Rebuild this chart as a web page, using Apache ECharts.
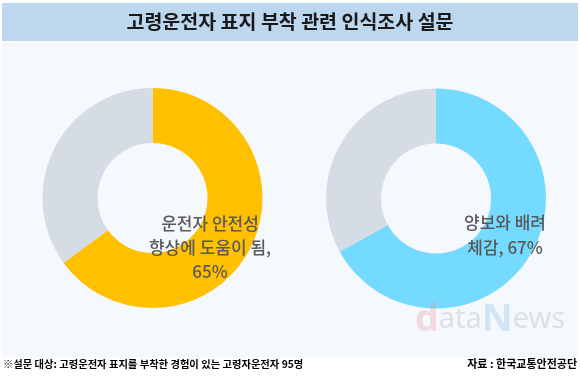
<!DOCTYPE html>
<html><head><meta charset="utf-8">
<script src="https://cdn.jsdelivr.net/npm/echarts@6/dist/echarts.min.js"></script>
<style>html,body{margin:0;padding:0;background:#fff}#c{width:580px;height:378px}</style>
</head><body><div id="c"></div>
<script>
const titleText = '고령운전자 표지 부착 관련 인식조사 설문';
const pieNames = ['운전자 안전성 향상에 도움이 됨', '양보와 배려 체감'];
const labelLines = [['운전자 안전성', '향상에 도움이 됨,'], ['양보와 배려', '체감,']];
const pieValues = [65, 67];
const restValues = [35, 33];
const noteText = '※설문 대상: 고령운전자 표지를 부착한 경험이 있는 고령자운전자 95명';
const sourceText = '자료 : 한국교통안전공단';

const chart = echarts.init(document.getElementById('c'));
const colors = ['#FFC000', '#75DAFF'];
const centers = [[152.5, 198], [436, 198.5]];
const series = pieValues.map((v, i) => ({
  type: 'pie', center: centers[i], radius: [55, 110], startAngle: 90, clockwise: true,
  silent: true, label: {show: false}, labelLine: {show: false},
  data: [
    {name: pieNames[i], value: v, itemStyle: {color: colors[i]}},
    {name: '기타', value: restValues[i], itemStyle: {color: '#D6DCE5'}}
  ]
}));
const labelFont = '"Noto Sans CJK KR", "Noto Sans", sans-serif';
const lbl1 = labelLines[0].concat([pieValues[0] + '%']).join('\n');
const lbl2 = labelLines[1][0] + '\n' + labelLines[1][1] + ' ' + pieValues[1] + '%';
chart.setOption({
  animation: false,
  backgroundColor: '#ffffff',
  graphic: [
    {type: 'rect', shape: {x: 2, y: 3, width: 576, height: 38}, style: {fill: '#BDD7EE'}, z: 0},
    {type: 'rect', shape: {x: 2, y: 43, width: 576, height: 314}, style: {fill: '#F5F8FD'}, z: 0},
    {type: 'text', x: 290, y: 22, style: {text: titleText, x: 0, y: 0, align: 'center', verticalAlign: 'middle',
      font: 'bold 19.5px "Noto Sans CJK KR", sans-serif', fill: '#1a1a1a'}, z: 5},
    {type: 'text', x: 210, y: 248, style: {text: lbl1, align: 'center', verticalAlign: 'middle', lineHeight: 24,
      font: '500 17px ' + labelFont, fill: '#595959'}, z: 10},
    {type: 'text', x: 505, y: 235, style: {text: lbl2, align: 'center', verticalAlign: 'middle', lineHeight: 25,
      font: '500 17px ' + labelFont, fill: '#595959'}, z: 10},
    {type: 'text', x: 490, y: 320, style: {
      text: '{a|d}{b|ata}{c|N}{b|ews}', align: 'center', verticalAlign: 'middle',
      rich: {
        a: {font: 'bold 38px "Noto Sans", sans-serif', fill: 'rgba(230,150,150,0.3)'},
        b: {font: '29px "Noto Sans", sans-serif', fill: 'rgba(170,170,170,0.3)'},
        c: {font: 'bold 38px "Noto Sans", sans-serif', fill: 'rgba(120,180,230,0.28)'}
      }}, z: 20},
    {type: 'text', x: 3, y: 364, style: {text: noteText, align: 'left', verticalAlign: 'middle',
      font: 'bold 10.3px "Noto Sans CJK KR", sans-serif', fill: '#000'}, z: 5},
    {type: 'text', x: 577, y: 364, style: {text: sourceText, align: 'right', verticalAlign: 'middle',
      font: 'bold 11px "Noto Sans CJK KR", sans-serif', fill: '#000'}, z: 5}
  ],
  series: series
});
</script></body></html>
